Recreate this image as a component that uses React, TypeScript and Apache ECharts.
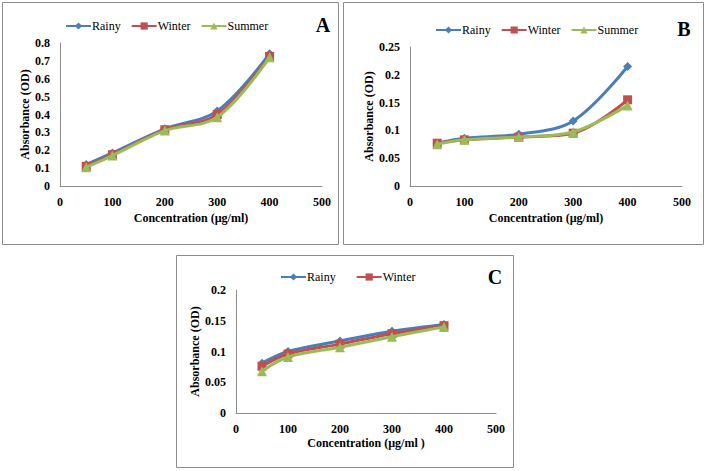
import React, { useEffect, useRef } from "react";
import * as echarts from "echarts";

const concentrations = [50, 100, 200, 300, 400];
const seasons = ["Rainy", "Winter", "Summer"];

const rainyA = [0.12, 0.185, 0.32, 0.42, 0.74];
const winterA = [0.11, 0.175, 0.315, 0.4, 0.725];
const summerA = [0.105, 0.17, 0.31, 0.385, 0.72];

const rainyB = [0.077, 0.086, 0.093, 0.117, 0.215];
const winterB = [0.077, 0.083, 0.088, 0.095, 0.155];
const summerB = [0.075, 0.083, 0.088, 0.097, 0.145];

const rainyC = [0.081, 0.1, 0.117, 0.133, 0.144];
const winterC = [0.076, 0.096, 0.112, 0.129, 0.142];
const summerC = [0.068, 0.091, 0.107, 0.124, 0.14];

const xTicks = [0, 100, 200, 300, 400, 500];
const panelLetters = ["A", "B", "C"];

const COLORS = ["#4A7EBB", "#C0504D", "#9BBB59"];
const SYMBOLS = ["diamond", "rect", "triangle"];
const SYMBOL_SIZES = [9, 9, 10];
const FONT = "Liberation Serif, Times New Roman, serif";

export default function App() {
  const ref = useRef<HTMLDivElement>(null);

  useEffect(() => {
    document.body.style.margin = "0";
    const chart = echarts.init(ref.current!, null, { renderer: "svg" });

    const panels = [
      { values: [rainyA, winterA, summerA], max: 0.8, interval: 0.1,
        grid: { left: 60, right: 387, top: 43, bottom: 285 }, yNameGap: 27, xNameGap: 26 },
      { values: [rainyB, winterB, summerB], max: 0.25, interval: 0.05,
        grid: { left: 410, right: 27, top: 47, bottom: 285 }, yNameGap: 32, xNameGap: 26 },
      { values: [rainyC, winterC, summerC], max: 0.2, interval: 0.05,
        grid: { left: 236, right: 213, top: 290, bottom: 58 }, yNameGap: 34, xNameGap: 24 },
    ];

    const axisLabel = { fontFamily: FONT, fontWeight: "bold" as const, fontSize: 12, color: "#000" };
    const nameStyle = { fontFamily: FONT, fontWeight: "bold" as const, fontSize: 12, color: "#000" };
    const axisLine = { show: true, lineStyle: { color: "#8c8c8c", width: 1 } };

    const xAxis = panels.map((p, i) => ({
      type: "value" as const,
      gridIndex: i,
      min: xTicks[0],
      max: xTicks[xTicks.length - 1],
      interval: 100,
      name: i === 2 ? "Concentration (µg/ml )" : "Concentration (µg/ml)",
      nameLocation: "middle" as const,
      nameGap: p.xNameGap,
      nameTextStyle: nameStyle,
      axisLine,
      axisTick: { show: false },
      splitLine: { show: false },
      axisLabel: { ...axisLabel, margin: 10 },
    }));

    const yAxis = panels.map((p, i) => ({
      type: "value" as const,
      gridIndex: i,
      min: 0,
      max: p.max,
      interval: p.interval,
      name: "Absorbance (OD)",
      nameLocation: "middle" as const,
      nameGap: p.yNameGap,
      nameTextStyle: nameStyle,
      axisLine,
      axisTick: { show: false },
      splitLine: { show: false },
      axisLabel: { ...axisLabel, margin: 10 },
    }));

    const series: any[] = [];
    panels.forEach((p, i) => {
      p.values.forEach((vals, s) => {
        series.push({
          type: "line",
          name: seasons[s],
          xAxisIndex: i,
          yAxisIndex: i,
          data: concentrations.map((c, k) => [c, vals[k]]),
          smooth: 0.35,
          symbol: SYMBOLS[s],
          symbolSize: SYMBOL_SIZES[s],
          lineStyle: { color: COLORS[s], width: 3 },
          itemStyle: { color: COLORS[s] },
          z: 2 + s,
        });
      });
    });

    const legendBase = {
      orient: "horizontal" as const,
      padding: 0,
      itemWidth: 25,
      itemHeight: 9,
      textStyle: { fontFamily: FONT, fontSize: 12, color: "#000", padding: [0, 0, 0, -4] },
    };

    const borders = [
      { x: 2.5, y: 2.5, width: 336, height: 242 },
      { x: 343.5, y: 2.5, width: 360, height: 242 },
      { x: 176.5, y: 255.5, width: 337, height: 212 },
    ];
    const letterPos = [
      { x: 323, y: 25 },
      { x: 684, y: 29 },
      { x: 495, y: 277 },
    ];

    chart.setOption({
      animation: false,
      backgroundColor: "#fff",
      textStyle: { fontFamily: FONT },
      grid: panels.map((p) => ({ ...p.grid, containLabel: false })),
      xAxis,
      yAxis,
      legend: [
        { ...legendBase, left: 65, top: 20, itemGap: 10, data: seasons },
        { ...legendBase, left: 435, top: 24, itemGap: 10, data: seasons },
        { ...legendBase, left: 280, top: 271, itemGap: 20, data: seasons.slice(0, 2) },
      ],
      series,
      graphic: [
        ...borders.map((b) => ({
          type: "rect",
          shape: b,
          style: { fill: "none", stroke: "#8c8c8c", lineWidth: 1 },
          z: -1,
          silent: true,
        })),
        ...letterPos.map((p, i) => ({
          type: "text",
          x: p.x,
          y: p.y,
          style: {
            text: panelLetters[i],
            fontFamily: FONT,
            fontWeight: "bold",
            fontSize: 20,
            fill: "#000",
            align: "center",
            verticalAlign: "middle",
          },
        })),
      ],
    });

    return () => chart.dispose();
  }, []);

  return <div ref={ref} style={{ width: 709, height: 471 }} />;
}
